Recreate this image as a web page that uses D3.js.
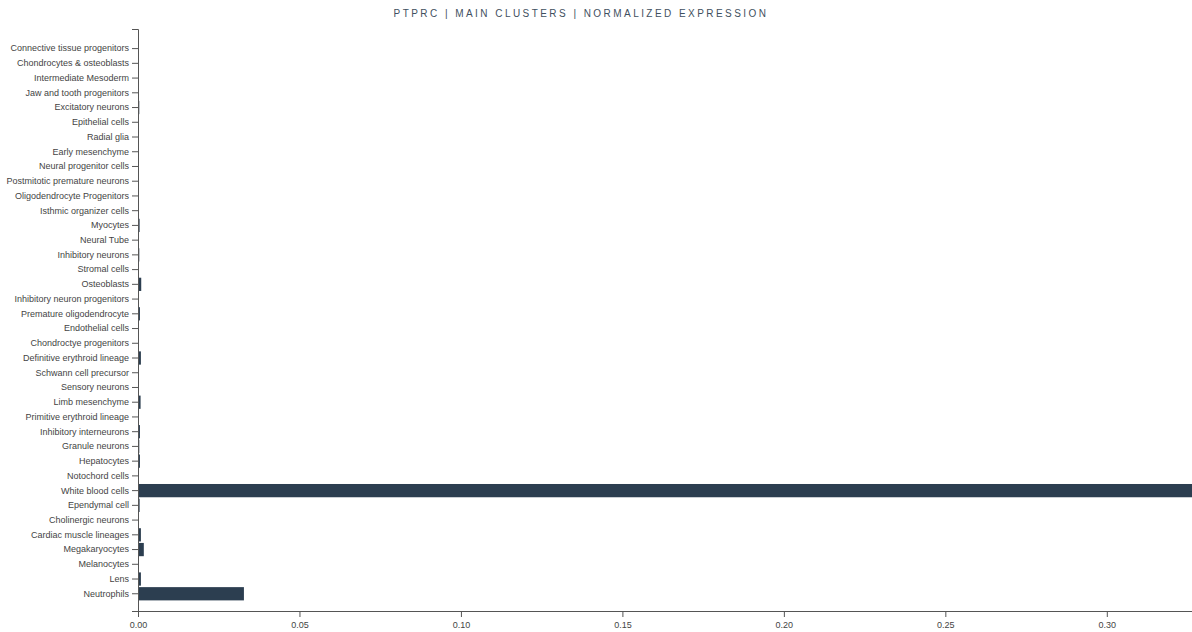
<!DOCTYPE html>
<html>
<head>
<meta charset="utf-8">
<script src="https://cdn.jsdelivr.net/npm/d3@7"></script>
<style>
  html, body { margin: 0; padding: 0; background: #fff; overflow: hidden; }
  svg { display: block; font-family: "Liberation Sans", Arial, sans-serif; }
  .title { font-size: 10px; letter-spacing: 2.45px; fill: #3f5060; }
  .axis text { font-size: 9px; fill: #444; }
  .axis path, .axis line { stroke: #555; }
</style>
</head>
<body>
<svg id="chart" width="1192" height="632"></svg>
<script>
// Main cell clusters, top to bottom
const clusters = [
  "Connective tissue progenitors", "Chondrocytes & osteoblasts", "Intermediate Mesoderm",
  "Jaw and tooth progenitors", "Excitatory neurons", "Epithelial cells", "Radial glia",
  "Early mesenchyme", "Neural progenitor cells", "Postmitotic premature neurons",
  "Oligodendrocyte Progenitors", "Isthmic organizer cells", "Myocytes", "Neural Tube",
  "Inhibitory neurons", "Stromal cells", "Osteoblasts", "Inhibitory neuron progenitors",
  "Premature oligodendrocyte", "Endothelial cells", "Chondroctye progenitors",
  "Definitive erythroid lineage", "Schwann cell precursor", "Sensory neurons",
  "Limb mesenchyme", "Primitive erythroid lineage", "Inhibitory interneurons",
  "Granule neurons", "Hepatocytes", "Notochord cells", "White blood cells",
  "Ependymal cell", "Cholinergic neurons", "Cardiac muscle lineages", "Megakaryocytes",
  "Melanocytes", "Lens", "Neutrophils"
];

// Normalized PTPRC expression per cluster
const expression = [
  0.0003, 0.0002, 0.0001,
  0.0003, 0.0004, 0.0002, 0.0002,
  0.0001, 0.0003, 0.0002,
  0.0003, 0.0002, 0.0005, 0.0001,
  0.0004, 0.0002, 0.0010, 0.0002,
  0.0006, 0.0002, 0.0001,
  0.0009, 0.0001, 0.0001,
  0.0008, 0.0002, 0.0006,
  0.0004, 0.0006, 0.0002, 0.3270,
  0.0005, 0.0001, 0.0009, 0.0018,
  0.0002, 0.0009, 0.0328
];

const titleText = "PTPRC | MAIN CLUSTERS | NORMALIZED EXPRESSION";
const tickFormat = ".2f";

const data = clusters.map((name, i) => ({ name, value: expression[i] }));

const margin = { top: 29, left: 138, bottom: 21 };
const width = 1194;
const height = 632;

const svg = d3.select("#chart");

const x = d3.scaleLinear()
  .domain([0, d3.max(data, d => d.value)])
  .range([margin.left, width]);

const y = d3.scaleBand()
  .domain(clusters)
  .range([margin.top, height - margin.bottom])
  .paddingInner(0.1)
  .paddingOuter(0.8)
  .align(0.55);

svg.append("text")
  .attr("class", "title")
  .attr("x", 581)
  .attr("y", 17)
  .attr("text-anchor", "middle")
  .text(titleText);

svg.append("g")
  .selectAll("rect")
  .data(data)
  .join("rect")
  .attr("x", x(0))
  .attr("y", d => y(d.name))
  .attr("width", d => x(d.value) - x(0))
  .attr("height", y.bandwidth())
  .attr("fill", "#2c3e50");

svg.append("g")
  .attr("class", "axis")
  .attr("transform", `translate(0,${height - margin.bottom})`)
  .call(d3.axisBottom(x).ticks(10).tickPadding(5).tickFormat(d3.format(tickFormat)));

svg.append("g")
  .attr("class", "axis")
  .attr("transform", `translate(${margin.left},0)`)
  .call(d3.axisLeft(y));
</script>
</body>
</html>
